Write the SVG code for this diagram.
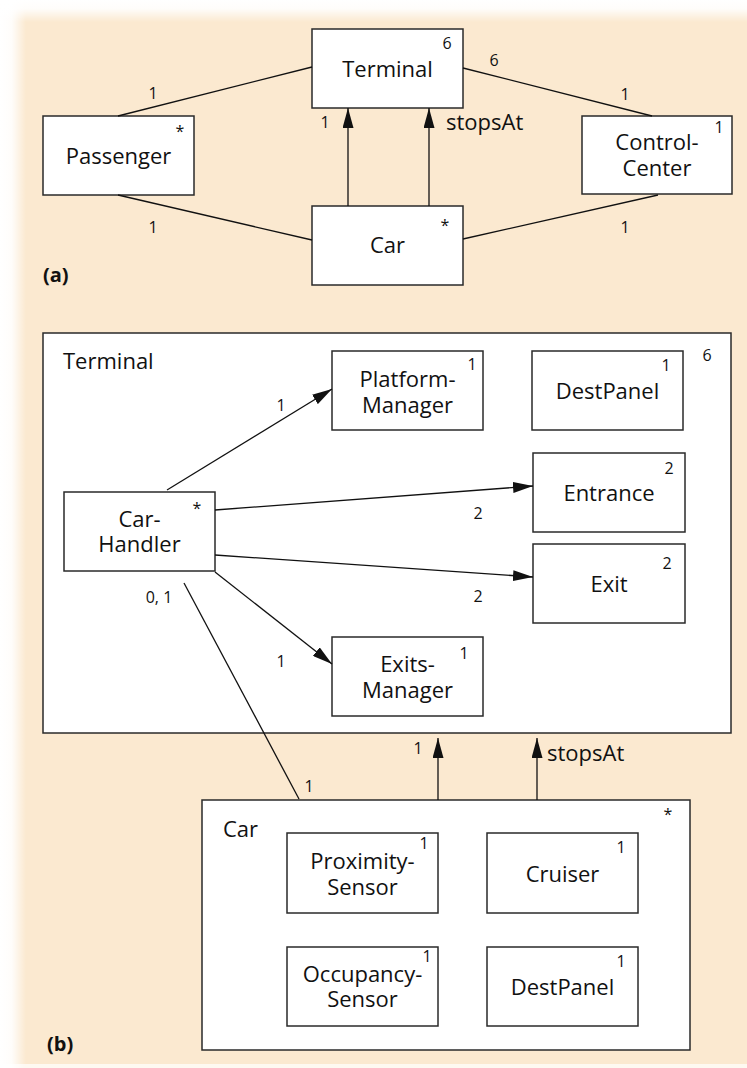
<svg xmlns="http://www.w3.org/2000/svg" width="747" height="1068" viewBox="0 0 747 1068">
<style>
.box{fill:#fff;stroke:#2a2a2a;stroke-width:1.5}
.name{font-family:"Open Sans","Noto Sans",sans-serif;font-size:22px;fill:#111;text-anchor:middle}
.title{font-family:"Open Sans","Noto Sans",sans-serif;font-size:22px;fill:#111}
.m{font-family:"Open Sans","Noto Sans",sans-serif;font-size:16px;fill:#111;text-anchor:middle}
.lbl{font-family:"Open Sans","Noto Sans",sans-serif;font-size:22px;fill:#111}
.cap{font-family:"Open Sans","Noto Sans",sans-serif;font-size:20px;font-weight:bold;fill:#111}
.ln{stroke:#111;stroke-width:1.3;fill:none}
.arr{stroke:#111;stroke-width:1.3;fill:none;marker-end:url(#ah)}
</style>
<defs>
<marker id="ah" viewBox="0 0 20 11" refX="20" refY="5.5" markerWidth="20" markerHeight="11" markerUnits="userSpaceOnUse" orient="auto">
<path d="M0,0 L20,5.5 L0,11 Z" fill="#111"/>
</marker>
<linearGradient id="fl" x1="0" y1="0" x2="1" y2="0">
<stop offset="0" stop-color="#fff" stop-opacity="1"/>
<stop offset="0.45" stop-color="#fff" stop-opacity="0.9"/>
<stop offset="1" stop-color="#fff" stop-opacity="0"/>
</linearGradient>
<linearGradient id="ft" x1="0" y1="0" x2="0" y2="1">
<stop offset="0" stop-color="#fff" stop-opacity="1"/>
<stop offset="0.4" stop-color="#fff" stop-opacity="0.9"/>
<stop offset="1" stop-color="#fff" stop-opacity="0"/>
</linearGradient>
</defs>
<g id="background">
<rect x="0" y="0" width="747" height="1068" fill="#fbe9d0"/>
<rect x="0" y="0" width="26" height="1068" fill="url(#fl)"/>
<rect x="0" y="0" width="747" height="22" fill="url(#ft)"/>
<rect x="0" y="1064" width="747" height="4" fill="#fff" opacity="0.7"/>
</g>

<!-- (a) -->
<g id="a-terminal">
<rect class="box" x="312" y="29" width="151" height="79"/>
<text class="name" x="387.5" y="77">Terminal</text>
<text class="m" x="447" y="49">6</text>
</g>
<g id="a-passenger">
<rect class="box" x="43" y="116" width="151" height="79"/>
<text class="name" x="118.5" y="164">Passenger</text>
<text class="m" x="180" y="137">*</text>
</g>
<g id="a-car">
<rect class="box" x="312" y="206" width="151" height="79"/>
<text class="name" x="387.5" y="253">Car</text>
<text class="m" x="445" y="231">*</text>
</g>
<g id="a-controlcenter">
<rect class="box" x="582" y="116" width="150" height="78"/>
<text class="name" x="657" y="150">Control-<tspan x="657" dy="26">Center</tspan></text>
<text class="m" x="719" y="133">1</text>
</g>
<text class="cap" x="43" y="282">(a)</text>

<!-- (b) -->
<g id="b-terminal">
<rect class="box" x="43" y="333" width="688" height="400"/>
<text class="title" x="63" y="369">Terminal</text>
<text class="m" x="707" y="361">6</text>
</g>
<g id="b-platformmanager">
<rect class="box" x="332" y="351" width="151" height="79"/>
<text class="name" x="407.5" y="387">Platform-<tspan x="407.5" dy="26">Manager</tspan></text>
<text class="m" x="472" y="370">1</text>
</g>
<g id="b-t-destpanel">
<rect class="box" x="532" y="351" width="151" height="79"/>
<text class="name" x="607.5" y="399">DestPanel</text>
<text class="m" x="666" y="371">1</text>
</g>
<g id="b-carhandler">
<rect class="box" x="64" y="492" width="151" height="79"/>
<text class="name" x="139.5" y="527">Car-<tspan x="139.5" dy="25">Handler</tspan></text>
<text class="m" x="197" y="514">*</text>
</g>
<g id="b-entrance">
<rect class="box" x="533" y="453" width="152" height="79"/>
<text class="name" x="609" y="501">Entrance</text>
<text class="m" x="669" y="474">2</text>
</g>
<g id="b-exit">
<rect class="box" x="533" y="544" width="152" height="79"/>
<text class="name" x="609" y="592">Exit</text>
<text class="m" x="667" y="569">2</text>
</g>
<g id="b-exitsmanager">
<rect class="box" x="332" y="637" width="151" height="79"/>
<text class="name" x="407.5" y="672">Exits-<tspan x="407.5" dy="26">Manager</tspan></text>
<text class="m" x="464" y="659">1</text>
</g>

<g id="b-car">
<rect class="box" x="202" y="800" width="488" height="250"/>
<text class="title" x="223" y="837">Car</text>
<text class="m" x="668" y="820">*</text>
</g>
<g id="b-proximitysensor">
<rect class="box" x="287" y="833" width="151" height="80"/>
<text class="name" x="362.5" y="869">Proximity-<tspan x="362.5" dy="26">Sensor</tspan></text>
<text class="m" x="424" y="849">1</text>
</g>
<g id="b-cruiser">
<rect class="box" x="487" y="833" width="151" height="80"/>
<text class="name" x="562.5" y="882">Cruiser</text>
<text class="m" x="621" y="853">1</text>
</g>
<g id="b-occupancysensor">
<rect class="box" x="287" y="947" width="151" height="79"/>
<text class="name" x="362.5" y="982">Occupancy-<tspan x="362.5" dy="25">Sensor</tspan></text>
<text class="m" x="427" y="962">1</text>
</g>
<g id="b-c-destpanel">
<rect class="box" x="487" y="947" width="151" height="79"/>
<text class="name" x="562.5" y="995">DestPanel</text>
<text class="m" x="621" y="967">1</text>
</g>
<text class="cap" x="47" y="1051">(b)</text>

<g id="connectors">
<!-- (a) -->
<line class="ln" x1="118" y1="116" x2="312" y2="67"/>
<line class="ln" x1="118" y1="195" x2="312" y2="240"/>
<line class="ln" x1="463" y1="68" x2="652" y2="116"/>
<line class="ln" x1="463" y1="239" x2="658" y2="195"/>
<line class="arr" x1="348" y1="206" x2="348" y2="108"/>
<line class="arr" x1="429" y1="206" x2="429" y2="108"/>
<text class="m" x="153" y="99">1</text>
<text class="m" x="325" y="128">1</text>
<text class="lbl" x="446" y="130">stopsAt</text>
<text class="m" x="494" y="66">6</text>
<text class="m" x="625" y="100">1</text>
<text class="m" x="153" y="233">1</text>
<text class="m" x="625" y="233">1</text>
<!-- (b) -->
<line class="arr" x1="167" y1="490" x2="332" y2="389"/>
<line class="arr" x1="215" y1="510" x2="533" y2="486"/>
<line class="arr" x1="215" y1="555" x2="533" y2="577"/>
<line class="arr" x1="215" y1="572" x2="332" y2="664"/>
<line class="ln" x1="184" y1="583" x2="299" y2="799"/>
<line class="arr" x1="438" y1="800" x2="438" y2="738"/>
<line class="arr" x1="537" y1="800" x2="537" y2="738"/>
<text class="m" x="281" y="411">1</text>
<text class="m" x="478" y="519">2</text>
<text class="m" x="478" y="602">2</text>
<text class="m" x="281" y="667">1</text>
<text class="m" x="159" y="603">0, 1</text>
<text class="m" x="309" y="792">1</text>
<text class="m" x="418" y="754">1</text>
<text class="lbl" x="547" y="761">stopsAt</text>
</g>
</svg>
